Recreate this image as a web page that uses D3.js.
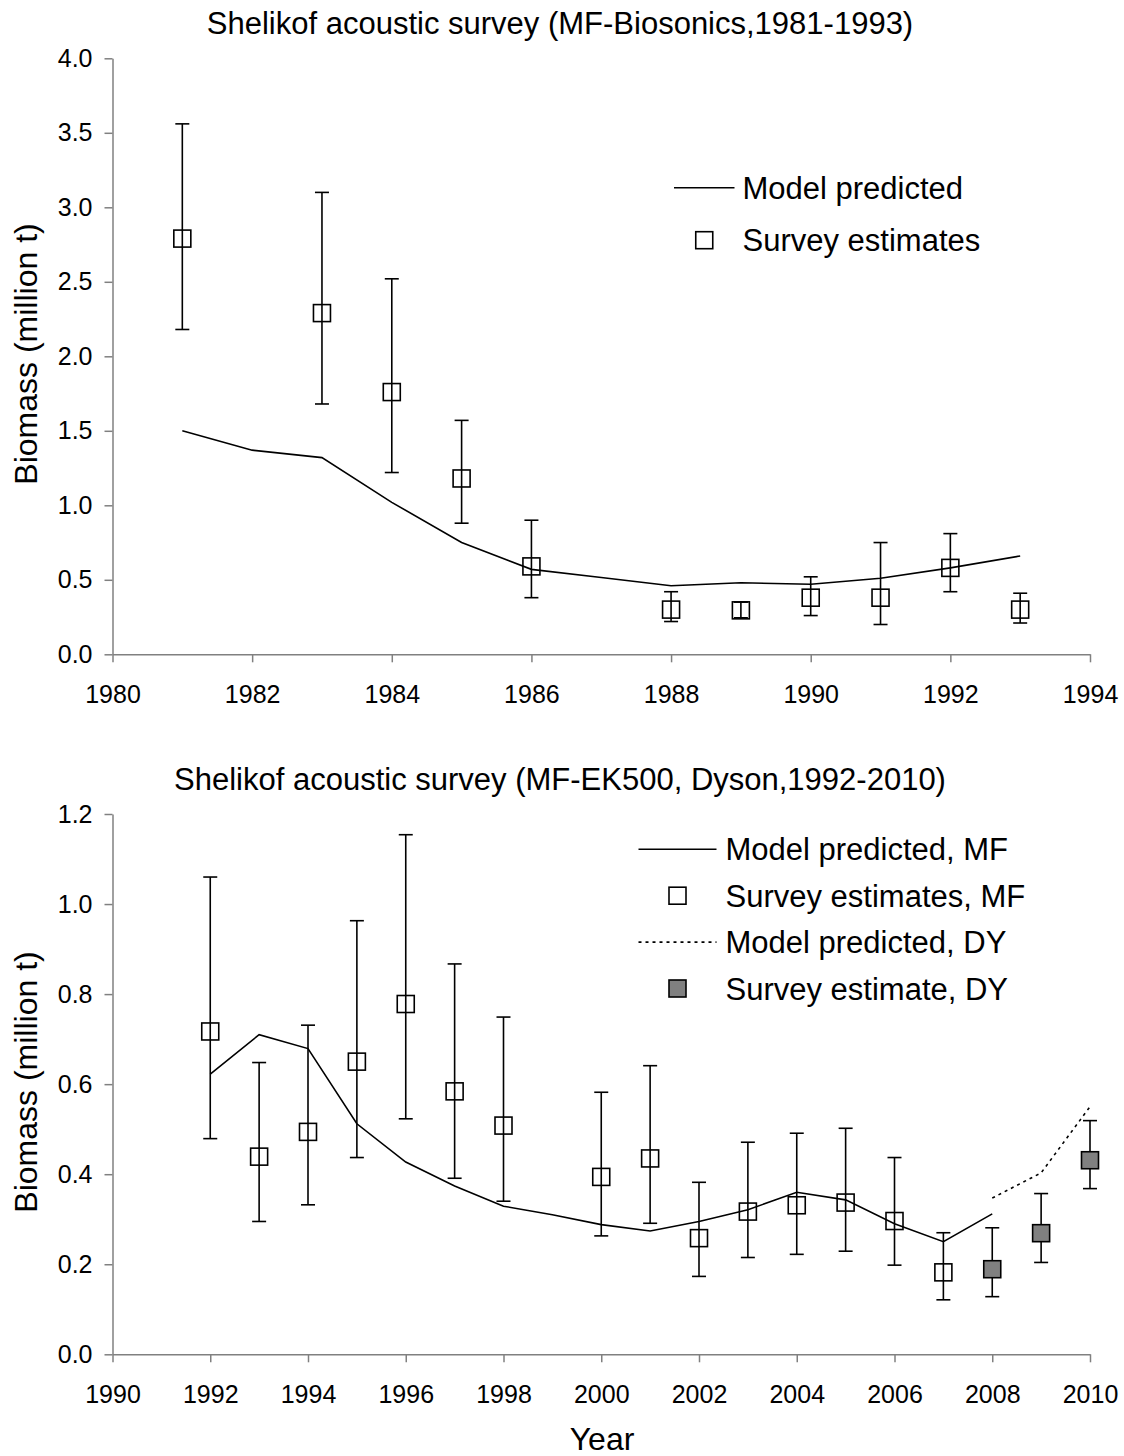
<!DOCTYPE html>
<html>
<head>
<meta charset="utf-8">
<script src="https://cdn.jsdelivr.net/npm/d3@7"></script>
<style>
  html, body { margin: 0; padding: 0; background: #fff; }
  svg { display: block; font-family: "Liberation Sans", Arial, sans-serif; }
</style>
</head>
<body>
<svg id="chart" width="1124" height="1456"></svg>
<script>
// ---- Panel 1: MF-Biosonics survey, 1981-1993 ----
const bioSurveyYears = [1981, 1983, 1984, 1985, 1986, 1988, 1989, 1990, 1991, 1992, 1993];
const bioSurvey      = [2.79, 2.29, 1.76, 1.18, 0.59, 0.30, 0.295, 0.38, 0.38, 0.58, 0.30];
const bioLower       = [2.18, 1.68, 1.22, 0.88, 0.38, 0.22, 0.245, 0.26, 0.20, 0.42, 0.21];
const bioUpper       = [3.56, 3.10, 2.52, 1.57, 0.90, 0.42, 0.35, 0.52, 0.75, 0.81, 0.41];
const bioModelYears  = [1981, 1982, 1983, 1984, 1985, 1986, 1987, 1988, 1989, 1990, 1991, 1992, 1993];
const bioModel       = [1.50, 1.37, 1.32, 1.02, 0.75, 0.57, 0.515, 0.46, 0.48, 0.47, 0.51, 0.58, 0.66];
const bioXTicks      = [1980, 1982, 1984, 1986, 1988, 1990, 1992, 1994];
const bioYTicks      = [0, 0.5, 1.0, 1.5, 2.0, 2.5, 3.0, 3.5, 4.0];

// ---- Panel 2: MF-EK500 and Dyson surveys, 1992-2010 ----
const mfSurveyYears = [1992, 1993, 1994, 1995, 1996, 1997, 1998, 2000, 2001, 2002, 2003, 2004, 2005, 2006, 2007];
const mfSurvey      = [0.717, 0.439, 0.494, 0.650, 0.778, 0.584, 0.508, 0.394, 0.435, 0.258, 0.317, 0.331, 0.337, 0.296, 0.182];
const mfLower       = [0.479, 0.295, 0.332, 0.437, 0.523, 0.391, 0.340, 0.263, 0.291, 0.173, 0.215, 0.222, 0.229, 0.198, 0.121];
const mfUpper       = [1.060, 0.648, 0.731, 0.963, 1.154, 0.867, 0.749, 0.582, 0.641, 0.382, 0.471, 0.491, 0.502, 0.437, 0.270];
const mfModelYears  = [1992, 1993, 1994, 1995, 1996, 1997, 1998, 1999, 2000, 2001, 2002, 2003, 2004, 2005, 2006, 2007, 2008];
const mfModel       = [0.622, 0.710, 0.679, 0.512, 0.427, 0.374, 0.329, 0.310, 0.288, 0.274, 0.295, 0.321, 0.360, 0.343, 0.290, 0.250, 0.312];
const dySurveyYears = [2008, 2009, 2010];
const dySurvey      = [0.189, 0.269, 0.431];
const dyLower       = [0.128, 0.204, 0.368];
const dyUpper       = [0.281, 0.357, 0.519];
const dyModelYears  = [2008, 2009, 2010];
const dyModel       = [0.347, 0.403, 0.550];
const ekXTicks      = [1990, 1992, 1994, 1996, 1998, 2000, 2002, 2004, 2006, 2008, 2010];
const ekYTicks      = [0, 0.2, 0.4, 0.6, 0.8, 1.0, 1.2];

const svg = d3.select("#chart");
const AXIS_COLOR = "#808080";
const FONT_TICK = 25;
const FONT_TEXT = 31;
const SQ = 17;      // marker side
const CAP = 14;     // error-bar cap width

function zip(xs, ys) { return xs.map((x, i) => [x, ys[i]]); }

function panel(cfg) {
  const g = svg.append("g");
  const x = d3.scaleLinear().domain(cfg.xDomain).range([112.5, 1090]);
  const y = d3.scaleLinear().domain(cfg.yDomain).range([cfg.yBottom, cfg.yTop]);

  // axes
  const xAxis = d3.axisBottom(x).tickValues(cfg.xTicks).tickFormat(d3.format("d"))
    .tickSize(8).tickSizeOuter(0).tickPadding(23);
  const yAxis = d3.axisLeft(y).tickValues(cfg.yTicks).tickFormat(d3.format(".1f"))
    .tickSize(8).tickSizeOuter(0).tickPadding(12);

  const gx = g.append("g").attr("transform", `translate(0,${cfg.yBottom})`).call(xAxis);
  const gy = g.append("g").attr("transform", `translate(112.5,0)`).call(yAxis);
  [gx, gy].forEach(a => {
    a.select(".domain").attr("stroke", AXIS_COLOR).attr("stroke-width", 1.5);
    a.selectAll(".tick line").attr("stroke", AXIS_COLOR).attr("stroke-width", 1.5);
    a.selectAll(".tick text").attr("fill", "#000").attr("font-size", FONT_TICK)
      .attr("font-family", "Liberation Sans, Arial, sans-serif");
  });

  // title
  g.append("text").attr("x", 560).attr("y", cfg.titleY).attr("text-anchor", "middle")
    .attr("font-size", FONT_TEXT).attr("fill", "#000").text(cfg.title);

  // y-axis title
  g.append("text")
    .attr("transform", `translate(37,${cfg.yLabelCenter}) rotate(-90)`)
    .attr("text-anchor", "middle").attr("font-size", 32).attr("fill", "#000")
    .text("Biomass (million t)");

  const line = d3.line().x(d => x(d[0])).y(d => y(d[1]));

  // model lines
  cfg.lines.forEach(L => {
    g.append("path").datum(zip(L.years, L.values))
      .attr("d", line).attr("fill", "none").attr("stroke", "#000")
      .attr("stroke-width", 1.6)
      .attr("stroke-dasharray", L.dashed ? "3,4" : null);
  });

  // survey estimates with error bars
  cfg.surveys.forEach(S => {
    const data = S.years.map((yr, i) => ({ yr, v: S.values[i], lo: S.lower[i], hi: S.upper[i] }));
    const eb = g.append("g").attr("stroke", "#000").attr("stroke-width", 1.6);
    eb.selectAll("line.v").data(data).join("line")
      .attr("x1", d => x(d.yr)).attr("x2", d => x(d.yr))
      .attr("y1", d => y(d.lo)).attr("y2", d => y(d.hi));
    eb.selectAll("line.lo").data(data).join("line")
      .attr("x1", d => x(d.yr) - CAP / 2).attr("x2", d => x(d.yr) + CAP / 2)
      .attr("y1", d => y(d.lo)).attr("y2", d => y(d.lo));
    eb.selectAll("line.hi").data(data).join("line")
      .attr("x1", d => x(d.yr) - CAP / 2).attr("x2", d => x(d.yr) + CAP / 2)
      .attr("y1", d => y(d.hi)).attr("y2", d => y(d.hi));
    g.append("g").selectAll("rect").data(data).join("rect")
      .attr("x", d => x(d.yr) - SQ / 2).attr("y", d => y(d.v) - SQ / 2)
      .attr("width", SQ).attr("height", SQ)
      .attr("fill", S.fill).attr("stroke", "#000").attr("stroke-width", 1.6);
  });

  // legend
  const lg = g.append("g");
  cfg.legend.forEach((item, i) => {
    const cy = cfg.legendY + i * cfg.legendStep;
    if (item.type === "line") {
      lg.append("line").attr("x1", cfg.legendLineX[0]).attr("x2", cfg.legendLineX[1])
        .attr("y1", cy).attr("y2", cy).attr("stroke", "#000").attr("stroke-width", 1.6)
        .attr("stroke-dasharray", item.dashed ? "3,4" : null);
    } else {
      const cx = (cfg.legendLineX[0] + cfg.legendLineX[1]) / 2;
      lg.append("rect").attr("x", cx - 8.5).attr("y", cy - 8.5).attr("width", 17).attr("height", 17)
        .attr("fill", item.fill).attr("stroke", "#000").attr("stroke-width", 1.6);
    }
    lg.append("text").attr("x", cfg.legendTextX).attr("y", cy + 11)
      .attr("font-size", FONT_TEXT).attr("fill", "#000").text(item.label);
  });
}

panel({
  title: "Shelikof acoustic survey (MF-Biosonics,1981-1993)",
  titleY: 34,
  xDomain: [1980, 1994], xTicks: bioXTicks,
  yDomain: [0, 4], yTicks: bioYTicks,
  yBottom: 654.3, yTop: 58.3,
  yLabelCenter: 354,
  lines: [{ years: bioModelYears, values: bioModel, dashed: false }],
  surveys: [{ years: bioSurveyYears, values: bioSurvey, lower: bioLower, upper: bioUpper, fill: "none" }],
  legend: [
    { type: "line", label: "Model predicted" },
    { type: "rect", label: "Survey estimates", fill: "none" }
  ],
  legendY: 187.7, legendStep: 52.5,
  legendLineX: [674, 734.5], legendTextX: 742.5
});

panel({
  title: "Shelikof acoustic survey (MF-EK500, Dyson,1992-2010)",
  titleY: 790,
  xDomain: [1990, 2010], xTicks: ekXTicks,
  yDomain: [0, 1.2], yTicks: ekYTicks,
  yBottom: 1354.3, yTop: 814,
  yLabelCenter: 1082,
  lines: [
    { years: mfModelYears, values: mfModel, dashed: false },
    { years: dyModelYears, values: dyModel, dashed: true }
  ],
  surveys: [
    { years: mfSurveyYears, values: mfSurvey, lower: mfLower, upper: mfUpper, fill: "none" },
    { years: dySurveyYears, values: dySurvey, lower: dyLower, upper: dyUpper, fill: "#808080" }
  ],
  legend: [
    { type: "line", label: "Model predicted, MF" },
    { type: "rect", label: "Survey estimates, MF", fill: "none" },
    { type: "line", label: "Model predicted, DY", dashed: true },
    { type: "rect", label: "Survey estimate, DY", fill: "#808080" }
  ],
  legendY: 849.3, legendStep: 46.4,
  legendLineX: [638.5, 716.5], legendTextX: 725.5
});

// shared x-axis title
svg.append("text").attr("x", 602).attr("y", 1450).attr("text-anchor", "middle")
  .attr("font-size", 32).attr("fill", "#000").text("Year");
</script>
</body>
</html>
